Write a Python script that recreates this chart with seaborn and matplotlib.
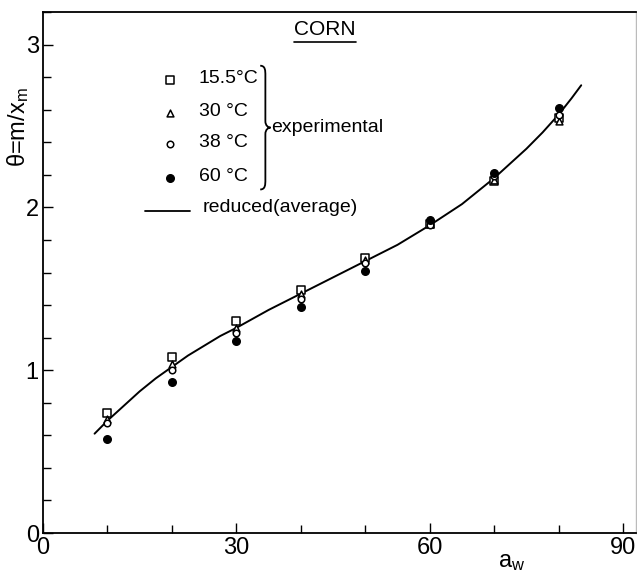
import matplotlib
matplotlib.use("Agg")
import matplotlib.pyplot as plt
from matplotlib.path import Path
from matplotlib.patches import PathPatch
from matplotlib.ticker import MultipleLocator
import pandas as pd
import seaborn as sns

# ---------------- data ----------------
aw = [10, 20, 30, 40, 50, 60, 70, 80]
theta_15 = [0.74, 1.08, 1.30, 1.49, 1.69, 1.90, 2.16, 2.55]
theta_30 = [0.70, 1.04, 1.26, 1.47, 1.675, 1.90, 2.17, 2.53]
theta_38 = [0.675, 1.00, 1.23, 1.44, 1.66, 1.89, 2.19, 2.57]
theta_60 = [0.58, 0.93, 1.18, 1.39, 1.61, 1.92, 2.21, 2.61]

curve_aw = [8, 10, 12.5, 15, 17.5, 20, 22.5, 25, 27.5, 30, 35, 40, 45, 50,
            55, 57.5, 60, 62.5, 65, 67.5, 70, 72.5, 75, 77.5, 80, 82, 83.5]
curve_theta = [0.61, 0.69, 0.78, 0.87, 0.95, 1.02, 1.09, 1.15, 1.21, 1.26,
               1.37, 1.47, 1.57, 1.67, 1.77, 1.83, 1.89, 1.955, 2.02, 2.10,
               2.18, 2.27, 2.36, 2.46, 2.57, 2.67, 2.75]

series_labels = ["15.5°C", "30 °C", "38 °C", "60 °C"]
x_ticks = [0, 30, 60, 90]
y_ticks = [0, 1, 2, 3]

# ---------------- style ----------------
sns.set_style("ticks")
FONT = ["Liberation Sans", "DejaVu Sans"]
plt.rcParams["font.family"] = FONT
plt.rcParams["text.color"] = "black"
plt.rcParams["xtick.color"] = "black"
plt.rcParams["ytick.color"] = "black"
plt.rcParams["mathtext.fontset"] = "custom"
plt.rcParams["mathtext.rm"] = "Liberation Sans"
plt.rcParams["mathtext.it"] = "Liberation Sans"

fig = plt.figure(figsize=(6.37, 5.73), dpi=100)
ax = fig.add_axes([43 / 637, 1 - 533 / 573, (636 - 43) / 637, (533 - 12) / 573])

# experimental points
styles = [
    dict(marker="s", s=26, facecolor="white", edgecolor="black", linewidth=1.1),
    dict(marker="^", s=24, facecolor="white", edgecolor="black", linewidth=1.1),
    dict(marker="o", s=22, facecolor="white", edgecolor="black", linewidth=1.1),
    dict(marker="o", s=30, facecolor="black", edgecolor="black", linewidth=1.0),
]
for ys, st in zip([theta_15, theta_30, theta_38, theta_60], styles):
    sns.scatterplot(x=aw, y=ys, ax=ax, zorder=3, **st)

# reduced (average) curve
curve_df = pd.DataFrame({"aw": curve_aw, "theta": curve_theta})
sns.lineplot(data=curve_df, x="aw", y="theta", ax=ax, color="black",
             linewidth=1.4, estimator=None, sort=False, zorder=2)

# axes
ax.set_xlim(0, 92)
ax.set_ylim(0, 3.2)
ax.set_xticks(x_ticks)
ax.set_yticks(y_ticks)
ax.xaxis.set_minor_locator(MultipleLocator(10))
ax.yaxis.set_minor_locator(MultipleLocator(0.2))
ax.tick_params(which="both", direction="in", color="black", width=1.0)
ax.tick_params(which="major", length=7, labelsize=17, pad=3,
               labelcolor="black")
ax.tick_params(which="minor", length=6)
ax.set_xlabel("")
ax.set_ylabel("")
for sp in ["left", "bottom", "top"]:
    ax.spines[sp].set_linewidth(1.3)
    ax.spines[sp].set_color("black")
ax.spines["right"].set_color("#bbbbbb")
ax.spines["right"].set_linewidth(1.0)

# axis labels
fig.text(18 / 637, 1 - 127 / 573, r"θ=m/x$_\mathrm{m}$", rotation=90,
         ha="center", va="center", fontsize=17)
fig.text(512 / 637, 1 - 562 / 573, r"a$_\mathrm{w}$", ha="center",
         va="center", fontsize=17)

# title
ax.text(43.7, 3.09, "CORN", ha="center", va="center", fontsize=15)
ax.plot([38.9, 48.5], [3.015, 3.015], color="black", linewidth=1.2,
        clip_on=False)

# legend markers and labels
leg_x = 19.7
leg_y = [2.78, 2.58, 2.39, 2.18]
for yy, st, lab in zip(leg_y, styles, series_labels):
    ax.scatter([leg_x], [yy], zorder=3, **st)
    ax.text(24.2, yy + 0.01, lab, ha="left", va="center", fontsize=14)

# brace
xl, xm = 33.7, 35.3
xc = (xl + xm) / 2
yt, yb, ymid = 2.87, 2.11, 2.49
verts = [
    (xl, yt), (xc, yt), (xc, yt - 0.03), (xc, yt - 0.06),
    (xc, ymid + 0.04),
    (xc, ymid + 0.01), (xm - 0.3, ymid), (xm, ymid),
    (xm - 0.3, ymid), (xc, ymid - 0.01), (xc, ymid - 0.04),
    (xc, yb + 0.06),
    (xc, yb + 0.03), (xc, yb), (xl, yb),
]
codes = [Path.MOVETO, Path.CURVE4, Path.CURVE4, Path.CURVE4,
         Path.LINETO,
         Path.CURVE4, Path.CURVE4, Path.CURVE4,
         Path.CURVE4, Path.CURVE4, Path.CURVE4,
         Path.LINETO,
         Path.CURVE4, Path.CURVE4, Path.CURVE4]
ax.add_patch(PathPatch(Path(verts, codes), facecolor="none",
                       edgecolor="black", linewidth=1.3))
ax.text(35.4, 2.49, "experimental", ha="left", va="center", fontsize=14)

# line legend
ax.plot([15.8, 22.8], [1.975, 1.975], color="black", linewidth=1.3)
ax.text(24.8, 2.0, "reduced(average)", ha="left", va="center", fontsize=14)

fig.savefig("out.png", dpi=100)
